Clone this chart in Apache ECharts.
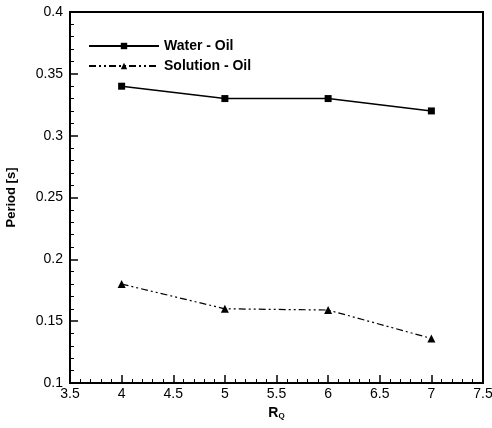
<!DOCTYPE html>
<html>
<head>
<meta charset="utf-8" />
<title></title>
<script src="https://cdn.jsdelivr.net/npm/echarts@6/dist/echarts.min.js"></script>
<style>
body { margin: 0; padding: 0; background: #fff; }
#main { width: 492px; height: 428px; }
</style>
</head>
<body>
<div id="main"></div>
<script type="text/javascript">
var rq = [4, 5, 6, 7];
var waterOil = [0.34, 0.33, 0.33, 0.32];
var solutionOil = [0.18, 0.16, 0.159, 0.136];

function pairs(xs, ys) {
	return xs.map(function (x, i) { return [x, ys[i]]; });
}

var font = 'Liberation Sans, Arial, sans-serif';
var chart = echarts.init(document.getElementById('main'));
chart.setOption({
	animation: false,
	backgroundColor: '#fff',
	grid: {
		left: 70, right: 9, top: 12, bottom: 45,
		outerBoundsMode: 'none',
		show: true, borderColor: '#000', borderWidth: 2
	},
	legend: {
		left: 83, top: 34,
		orient: 'vertical',
		itemWidth: 70, itemHeight: 8, itemGap: 6,
		textStyle: { fontFamily: font, fontWeight: 'bold', fontSize: 14, color: '#000' },
		data: ['Water - Oil', 'Solution - Oil']
	},
	xAxis: {
		type: 'value', min: 3.5, max: 7.5, interval: 0.5,
		name: '{a|R}{b|Q}', nameLocation: 'middle', nameGap: 22,
		nameTextStyle: {
			rich: {
				a: { fontFamily: font, fontWeight: 'bold', fontSize: 14, color: '#000' },
				b: { fontFamily: font, fontWeight: 'bold', fontSize: 8, color: '#000', verticalAlign: 'bottom', padding: [6, 0, 0, 0] }
			}
		},
		axisLine: { lineStyle: { color: '#000', width: 2 } },
		axisTick: { inside: true, length: 8, lineStyle: { color: '#000', width: 1.5 } },
		minorTick: { show: true, splitNumber: 5, length: 4, lineStyle: { color: '#000' } },
		splitLine: { show: false },
		axisLabel: { fontFamily: font, fontSize: 14, color: '#000', margin: 4 }
	},
	yAxis: {
		type: 'value', min: 0.1, max: 0.4, interval: 0.05,
		name: 'Period [s]', nameLocation: 'middle', nameGap: 52,
		nameTextStyle: { fontFamily: font, fontWeight: 'bold', fontSize: 13, color: '#000' },
		axisLine: { lineStyle: { color: '#000', width: 2 } },
		axisTick: { inside: true, length: 8, lineStyle: { color: '#000', width: 1.5 } },
		minorTick: { show: true, splitNumber: 5, length: 4, lineStyle: { color: '#000' } },
		splitLine: { show: false },
		axisLabel: { fontFamily: font, fontSize: 14, color: '#000', margin: 7 }
	},
	series: [
		{
			name: 'Water - Oil', type: 'line',
			data: pairs(rq, waterOil),
			symbol: 'rect', symbolSize: 7,
			itemStyle: { color: '#000' },
			lineStyle: { color: '#000', width: 1.5 }
		},
		{
			name: 'Solution - Oil', type: 'line',
			data: pairs(rq, solutionOil),
			symbol: 'triangle', symbolSize: 8,
			itemStyle: { color: '#000' },
			lineStyle: { color: '#000', width: 1.2, type: [7, 3, 2, 3, 2, 3] }
		}
	]
});
</script>
</body>
</html>
